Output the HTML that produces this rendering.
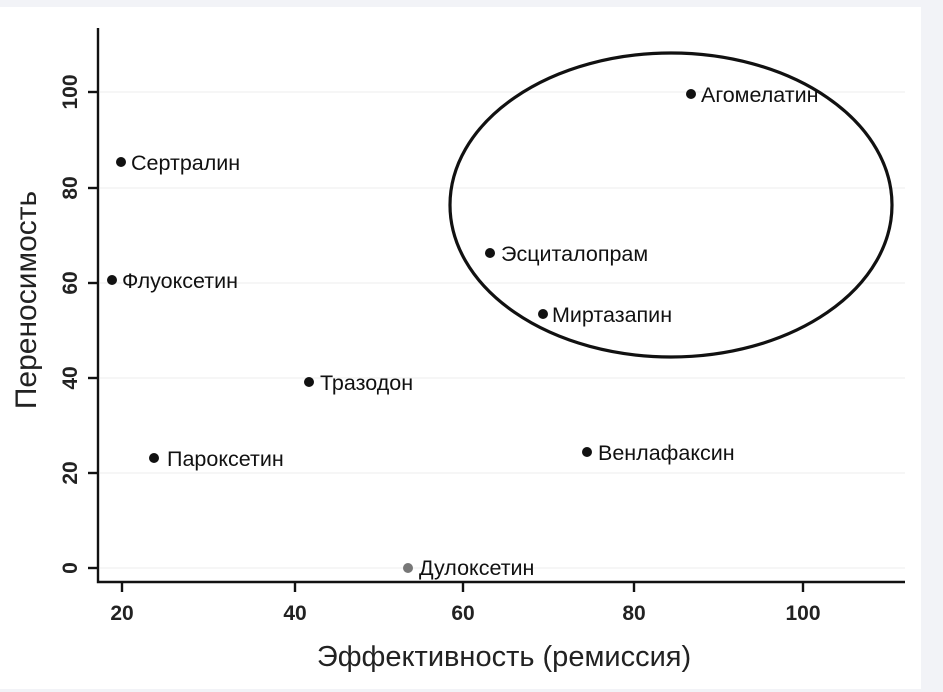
<!DOCTYPE html>
<html><head><meta charset="utf-8"><style>
html,body{margin:0;padding:0;background:#f2f3f7;}
svg{display:block;font-family:"Liberation Sans",Arial,sans-serif;}
</style></head><body>
<svg width="943" height="692" xmlns="http://www.w3.org/2000/svg">
<rect x="0" y="7" width="921" height="682" fill="#fff"/>
<g stroke="#eeeeee" stroke-width="1">
<line x1="100" y1="568" x2="905" y2="568"/><line x1="100" y1="473" x2="905" y2="473"/>
<line x1="100" y1="378" x2="905" y2="378"/><line x1="100" y1="283" x2="905" y2="283"/>
<line x1="100" y1="188" x2="905" y2="188"/><line x1="100" y1="92" x2="905" y2="92"/>
</g>
<g stroke="#111" stroke-width="2.4" fill="none">
<polyline points="98,28 98,582 905,582"/>
<line x1="88" y1="568" x2="98" y2="568"/><line x1="88" y1="473" x2="98" y2="473"/>
<line x1="88" y1="378" x2="98" y2="378"/><line x1="88" y1="283" x2="98" y2="283"/>
<line x1="88" y1="188" x2="98" y2="188"/><line x1="88" y1="92" x2="98" y2="92"/>
<line x1="122" y1="582" x2="122" y2="592"/><line x1="295" y1="582" x2="295" y2="592"/>
<line x1="463" y1="582" x2="463" y2="592"/><line x1="634" y1="582" x2="634" y2="592"/>
<line x1="803" y1="582" x2="803" y2="592"/>
<ellipse cx="671" cy="205" rx="221" ry="152" stroke-width="3.2"/>
</g>
<g font-size="21" font-weight="bold" fill="#222" text-anchor="middle">
<text x="122" y="620">20</text><text x="295" y="620">40</text><text x="463" y="620">60</text>
<text x="634" y="620">80</text><text x="803" y="620">100</text>
<g transform="rotate(-90)">
<text x="-568" y="77">0</text><text x="-473" y="77">20</text><text x="-378" y="77">40</text>
<text x="-283" y="77">60</text><text x="-188" y="77">80</text><text x="-92" y="77">100</text>
</g>
</g>
<text x="504" y="666" font-size="29" fill="#222" text-anchor="middle">Эффективность (ремиссия)</text>
<text transform="translate(36,300) rotate(-90)" font-size="30" fill="#222" text-anchor="middle">Переносимость</text>
<g fill="#111">
<circle cx="691" cy="94" r="5"/><circle cx="121" cy="162" r="5"/><circle cx="112" cy="280" r="5"/>
<circle cx="490" cy="253" r="5"/><circle cx="543" cy="314" r="5"/><circle cx="309" cy="382" r="5"/>
<circle cx="154" cy="458" r="5"/><circle cx="587" cy="452" r="5"/><circle cx="408" cy="568" r="5" fill="#777"/>
</g>
<g font-size="21.5" fill="#111">
<text x="701" y="102">Агомелатин</text><text x="131" y="170">Сертралин</text>
<text x="122" y="288">Флуоксетин</text><text x="501" y="261">Эсциталопрам</text>
<text x="552" y="322">Миртазапин</text><text x="320" y="390">Тразодон</text>
<text x="167" y="466">Пароксетин</text><text x="598" y="460">Венлафаксин</text>
<text x="419" y="575">Дулоксетин</text>
</g>
</svg>
</body></html>
